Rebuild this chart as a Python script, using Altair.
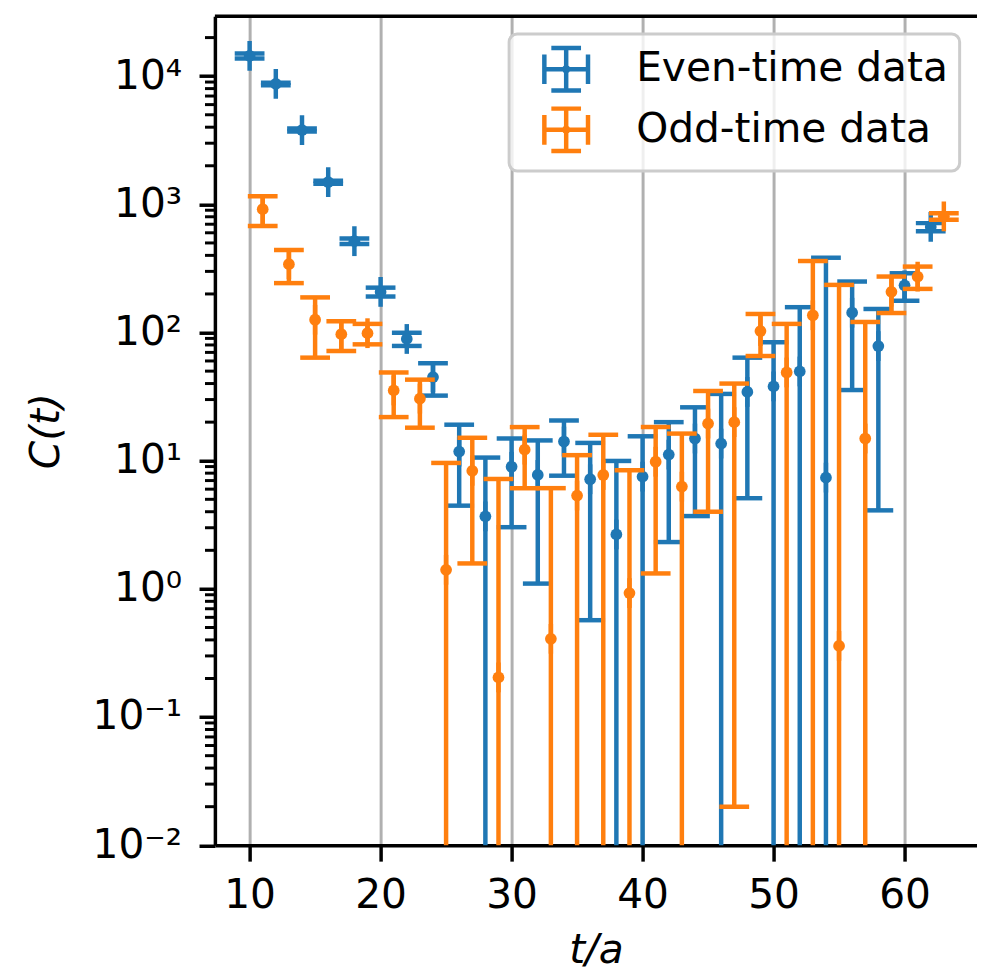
import altair as alt
import pandas as pd

# ---------------- data ----------------
even_t = list(range(10, 63, 2))
even_c = [14400, 8700, 3800, 1490, 516, 207.5, 89.1, 44.9, 11.78, 3.68, 8.97, 7.75,
          14.12, 7.17, 2.66, 7.51, 11.16, 14.9, 13.6, 34.4, 38.0, 49.7, 7.38, 142.8,
          78.4, 233.5, 666]
even_err = [650, 200, 100, 40, 26, 16.5, 10.5, 12.7, 7.32, 6.9, 5.94, 6.65, 6.48,
            6.6, 7.3, 8.0, 8.84, 11.2, 19.6, 29.3, 46, 108, 376, 107.2, 74.3, 56.5, 48]

odd_t = list(range(11, 64, 2))
odd_c = [917.5, 341.5, 125.85, 97.15, 98.85, 35.35, 30.5, 1.41, 8.34, 0.204, 12.2,
         0.408, 5.35, 7.74, 0.928, 9.82, 6.28, 19.5, 20.0, 102.6, 48.8, 136.4, 0.359,
         14.9, 207.7, 273, 806]
odd_err = [239.5, 98.5, 62.15, 25.35, 17.95, 13.45, 12.4, 8.2, 6.76, 7.0, 6.1, 5.7,
           5.7, 8.2, 7.5, 8.5, 10.0, 15.5, 19.98, 37, 68, 225, 235, 106, 65.7, 54, 48]

series_names = ["Even-time data", "Odd-time data"]
series_colors = ["#1f77b4", "#ff7f0e"]

x_ticks = [10, 20, 30, 40, 50, 60]
y_ticks = [0.01, 0.1, 1, 10, 100, 1000, 10000]
minor_vals = [m * 10.0 ** k for k in range(-2, 5) for m in range(2, 10) if m * 10.0 ** k < 29000]

# ---------------- layout constants ----------------
W, H = 768, 835.5
FONT = "DejaVu Sans"
FS = 41


def frame(t, c, e, name):
    df = pd.DataFrame({"t": t, "c": c, "err": e})
    df["series"] = name
    df["hi"] = df["c"] + df["err"]
    df["lo"] = df["c"] - df["err"]
    # bars whose lower end is <= 0 run off the bottom of the log axis
    df["lo_draw"] = df["lo"].where(df["lo"] > 0, 1e-4)
    return df


x_scale = alt.Scale(domain=[7.35, 7.35 + W / 13.2], nice=False, zero=False)
y_scale = alt.Scale(type="log", domain=[0.01, 29380], nice=False)

x_axis = alt.Axis(
    title="t/a", values=x_ticks, format="d", grid=True, gridColor="#b0b0b0",
    gridWidth=3, tickSize=16, tickWidth=3.5, tickColor="black", domainColor="black",
    domainWidth=3.5, labelFont=FONT, labelFontSize=FS, labelColor="black",
    labelPadding=14.6, labelFlush=False, titleFont=FONT, titleFontSize=FS,
    titleFontStyle="italic", titleFontWeight="normal", titleColor="black",
    titlePadding=16,
)

label_expr = ("datum.value < 0.05 ? '10\u207b\u00b2' : datum.value < 0.5 ? '10\u207b\u00b9' : "
              "datum.value < 5 ? '10\u2070' : datum.value < 50 ? '10\u00b9' : "
              "datum.value < 500 ? '10\u00b2' : datum.value < 5000 ? '10\u00b3' : '10\u2074'")

y_axis = alt.Axis(
    title="C(t)", values=y_ticks, labelExpr=label_expr, grid=False, tickSize=16,
    tickWidth=3.5, tickColor="black", domainColor="black", domainWidth=3.5,
    labelFont=FONT, labelFontSize=FS, labelColor="black", labelPadding=17.5,
    titleFont=FONT, titleFontSize=FS, titleFontStyle="italic",
    titleFontWeight="normal", titleColor="black", titlePadding=25,
)

X = alt.X("t:Q", scale=x_scale, axis=x_axis)

icon = ("M0,-0.97L0,0.97M-0.68,-0.97L0.68,-0.97M-0.68,0.97L0.68,0.97"
        "M-1,0L1,0M-1,-0.68L-1,0.68M1,-0.68L1,0.68"
        "M0.09,0A0.09,0.09,0,1,1,-0.09,0A0.09,0.09,0,1,1,0.09,0Z")

legend = alt.Legend(
    title=None, orient="none", legendX=296.5, legendY=18, symbolType=icon,
    symbolSize=1936, symbolStrokeWidth=4.5, symbolOffset=22, labelOffset=46,
    labelFont=FONT, labelFontSize=FS, labelColor="black", labelLimit=1000,
    padding=11, rowPadding=0, strokeColor="#cccccc",
    fillColor="rgba(255,255,255,0.8)", cornerRadius=8,
)
stroke_scale = alt.Scale(domain=series_names, range=series_colors)


def series_layers(df, color):
    bars = alt.Chart(df).mark_rule(strokeWidth=4.5, clip=True, opacity=1).encode(
        x=X,
        y=alt.Y("lo_draw:Q", scale=y_scale, axis=y_axis),
        y2=alt.Y2("hi:Q"),
        stroke=alt.Stroke("series:N", scale=stroke_scale, legend=legend),
    )
    cap_hi = alt.Chart(df).mark_tick(orient="horizontal", size=30, thickness=4.5,
                                     color=color, opacity=1, clip=True).encode(
        x=X, y=alt.Y("hi:Q", scale=y_scale, axis=y_axis))
    cap_lo = alt.Chart(df).transform_filter("datum.lo > 0.01").mark_tick(
        orient="horizontal", size=30, thickness=4.5, color=color, opacity=1,
        clip=True).encode(x=X, y=alt.Y("lo:Q", scale=y_scale, axis=y_axis))
    cap_x = alt.Chart(df).mark_tick(orient="vertical", size=30, thickness=4.5,
                                    color=color, opacity=1, clip=True).encode(
        x=X, y=alt.Y("c:Q", scale=y_scale, axis=y_axis))
    pts = alt.Chart(df).mark_circle(size=140, color=color, opacity=1).encode(
        x=X, y=alt.Y("c:Q", scale=y_scale, axis=y_axis))
    return [bars, cap_hi, cap_lo, cap_x, pts]


even_df = frame(even_t, even_c, even_err, series_names[0])
odd_df = frame(odd_t, odd_c, odd_err, series_names[1])

minor = alt.Chart(pd.DataFrame({"v": minor_vals})).mark_rule(
    color="black", strokeWidth=3).encode(
    y=alt.Y("v:Q", scale=y_scale, axis=y_axis),
    x=alt.value(-10), x2=alt.value(0))

top_spine = alt.Chart(pd.DataFrame({"k": [0]})).mark_rule(
    color="black", strokeWidth=3.5).encode(
    x=alt.value(0), x2=alt.value(W), y=alt.value(0))

layers = [minor] + series_layers(even_df, series_colors[0]) + \
    series_layers(odd_df, series_colors[1]) + [top_spine]

chart = alt.layer(*layers).properties(
    width=W, height=H,
    autosize=alt.AutoSizeParams(type="none"),
    padding={"left": 208.5, "top": 4.5, "right": 0, "bottom": 128},
    background="white",
).configure_view(stroke=None)

try:
    props = alt.LegendConfig.resolve_references().get("properties", {})
except Exception:
    props = {}
if "strokeWidth" in props:
    chart = chart.configure_legend(strokeWidth=3)

chart.save("out.html", embed_options={"renderer": "svg", "actions": False})
